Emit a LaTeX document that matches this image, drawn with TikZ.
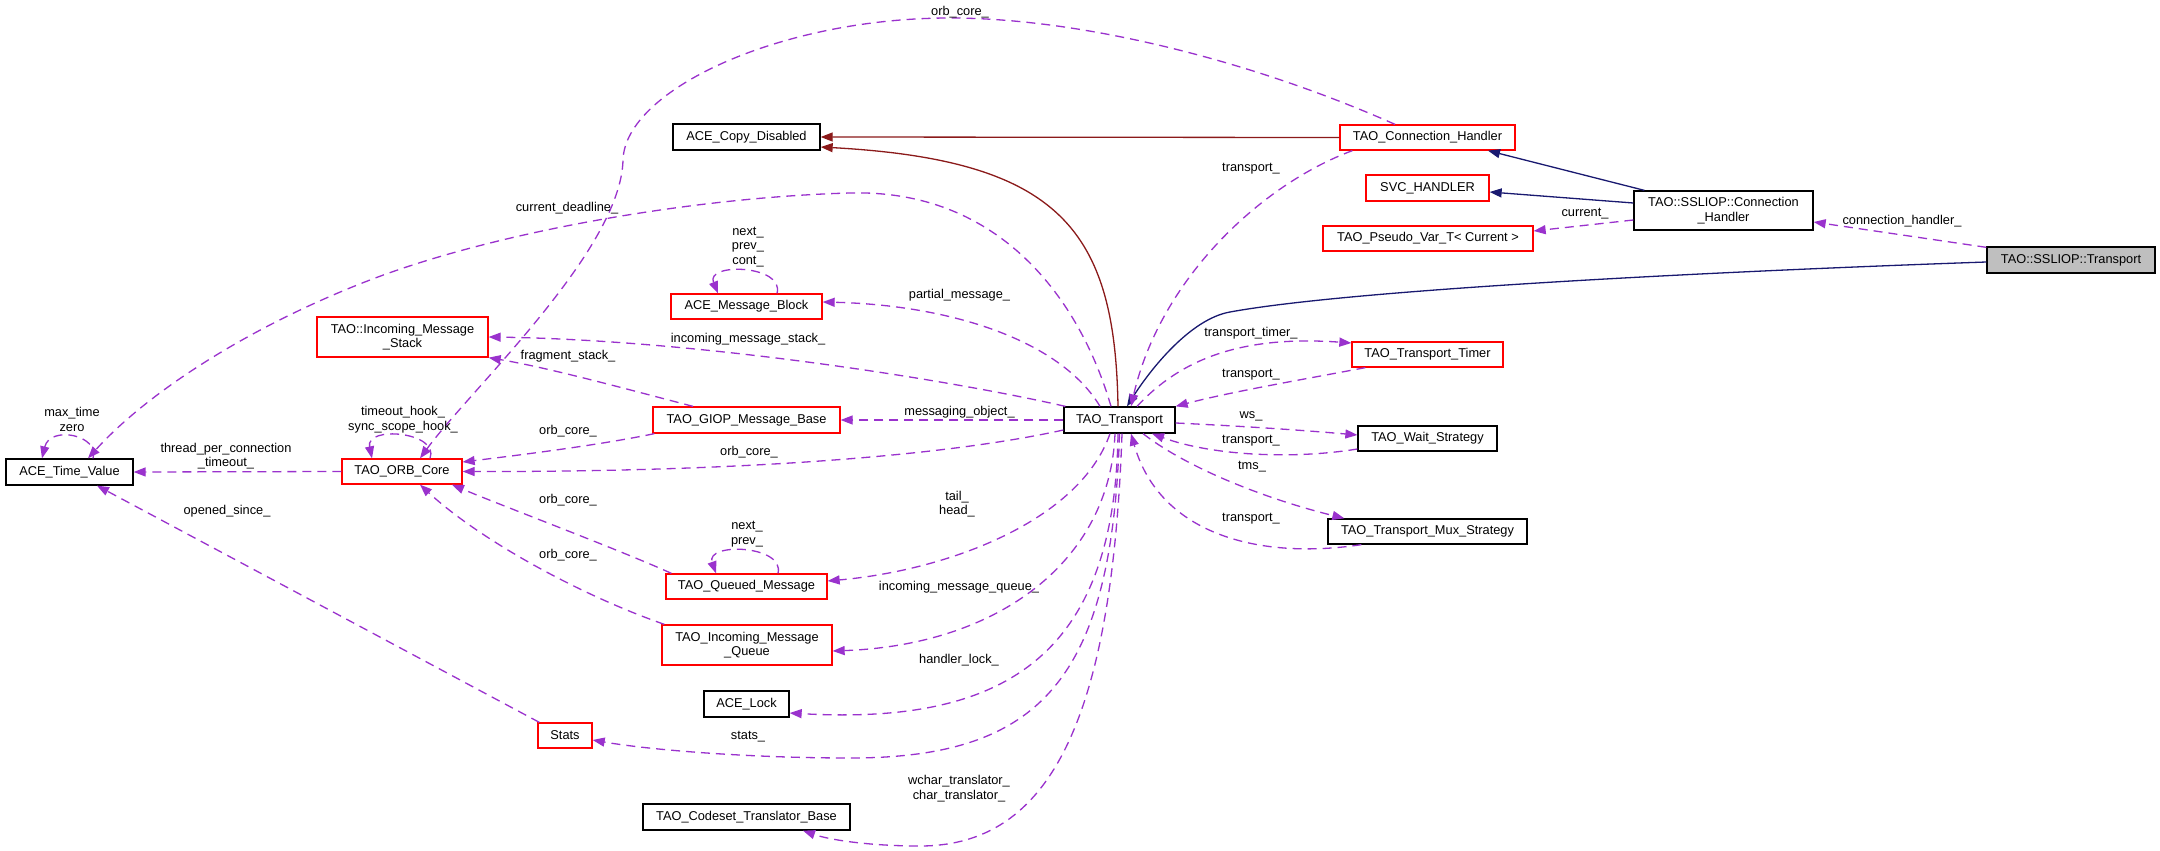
\documentclass[tikz,border=0pt]{standalone}
\usepackage{fontspec}
\setmainfont{Liberation Sans}
\usetikzlibrary{arrows.meta}
\definecolor{orch}{HTML}{9A32CD}
\definecolor{navyb}{HTML}{191970}
\definecolor{fireb}{HTML}{8B1A1A}
\definecolor{grayf}{HTML}{BFBFBF}
\definecolor{redb}{HTML}{FF0000}
\begin{document}
\begin{tikzpicture}[x=1pt,y=-1pt,
  every node/.style={font=\fontsize{12.8}{14.5}\selectfont, inner sep=0pt},
  cls/.style={draw=black, line width=1.3pt, fill=white, align=center},
  redcls/.style={cls, draw=redb},
  tipstyle/.style={-{Triangle[length=12pt,width=9pt]}},
  dep/.style={orch, line width=1.3pt, dash pattern=on 9pt off 6pt, tipstyle},
  inh/.style={navyb, line width=1.3pt, tipstyle},
  pinh/.style={fireb, line width=1.3pt, tipstyle},
  lbl/.style={align=center}
]
\useasboundingbox (0,0) rectangle (2160,851);
\fill[white] (0,0) rectangle (2160,851);

% ---------------- nodes
\node[cls, minimum width=127pt, minimum height=26pt] (tv) at (69.5,472) {ACE\_Time\_Value};
\node[redcls, minimum width=120pt, minimum height=25pt] (orb) at (402,471.5) {TAO\_ORB\_Core};
\node[redcls, minimum width=171pt, minimum height=40pt] (ims) at (402.5,337) {TAO::Incoming\_Message\\\_Stack};
\node[cls, minimum width=147pt, minimum height=26pt] (cd) at (746.5,137) {ACE\_Copy\_Disabled};
\node[redcls, minimum width=151pt, minimum height=25pt] (mb) at (746.5,306.5) {ACE\_Message\_Block};
\node[redcls, minimum width=187pt, minimum height=26pt] (giop) at (746.5,420) {TAO\_GIOP\_Message\_Base};
\node[redcls, minimum width=161pt, minimum height=25pt] (qm) at (746.5,586.5) {TAO\_Queued\_Message};
\node[redcls, minimum width=170pt, minimum height=40pt] (imq) at (747,645) {TAO\_Incoming\_Message\\\_Queue};
\node[cls, minimum width=85pt, minimum height=26pt] (lock) at (746.5,704) {ACE\_Lock};
\node[redcls, minimum width=54pt, minimum height=25pt] (stats) at (565,735.5) {Stats};
\node[cls, minimum width=207pt, minimum height=26pt] (cs) at (746.5,817) {TAO\_Codeset\_Translator\_Base};
\node[cls, minimum width=111pt, minimum height=26pt] (tr) at (1119.5,420) {TAO\_Transport};
\node[redcls, minimum width=175pt, minimum height=25pt] (ch) at (1427.5,137.5) {TAO\_Connection\_Handler};
\node[redcls, minimum width=123pt, minimum height=26pt] (svc) at (1427.5,188) {SVC\_HANDLER};
\node[redcls, minimum width=210pt, minimum height=25pt] (pv) at (1428,238.5) {TAO\_Pseudo\_Var\_T< Current >};
\node[redcls, minimum width=151pt, minimum height=25pt] (tt) at (1427.5,354.5) {TAO\_Transport\_Timer};
\node[cls, minimum width=139pt, minimum height=25pt] (ws) at (1427.5,438.5) {TAO\_Wait\_Strategy};
\node[cls, minimum width=199pt, minimum height=25pt] (mux) at (1427.5,531.5) {TAO\_Transport\_Mux\_Strategy};
\node[cls, minimum width=179pt, minimum height=39pt] (sch) at (1723.5,210.5) {TAO::SSLIOP::Connection\\\_Handler};
\node[cls, fill=grayf, minimum width=168pt, minimum height=26pt] (st) at (2071,260) {TAO::SSLIOP::Transport};

% ---------------- inheritance
\draw[pinh] (ch.west) -- (cd.east);
\draw[pinh] ([xshift=-1.5pt]tr.north) .. controls (1115,230) and (1060,160) .. ([yshift=-10pt]cd.east);
\draw[inh] ([yshift=-2pt]st.west) .. controls (1700,272) and (1350,290) .. (1230,312) .. controls (1190,319) and (1150,370) .. ([xshift=7.5pt]tr.north);
\draw[inh] ([xshift=11pt]sch.north west) -- ([xshift=60.5pt]ch.south);
\draw[inh] ([yshift=7.5pt]sch.west) -- ([yshift=-4pt]svc.east);

% ---------------- usage
\draw[dep] ([xshift=-32.5pt]ch.north) .. controls (1250,60) and (1080,18) .. (950,18) .. controls (780,18) and (625,90) .. (623,160) .. controls (621,250) and (470,390) .. ([xshift=18pt]orb.north);
\draw[dep] ([xshift=-8.5pt]tr.north) .. controls (1080,300) and (1000,189) .. (850,193) .. controls (700,197) and (500,230) .. (370,280) .. controls (253,325) and (150,390) .. ([xshift=18.5pt]tv.north);
\draw[dep] ([xshift=23.5pt]tv.north) .. controls (100,435) and (50,425) .. ([xshift=-27.5pt]tv.north);
\draw[dep] (orb.west) -- (tv.east);
\draw[dep] ([xshift=2pt]stats.north west) -- ([xshift=27.5pt]tv.south);
\draw[dep] ([xshift=28pt]orb.north) .. controls (440,432) and (365,425) .. ([xshift=-30pt]orb.north);
\draw[dep] ([xshift=-53.5pt]giop.north) .. controls (630,390) and (550,368) .. (ims.south east);
\draw[dep] ([xshift=2pt]tr.north west) .. controls (950,380) and (700,340) .. (ims.east);
\draw[dep] ([xshift=-19.5pt]tr.north) .. controls (1060,340) and (950,305) .. ([yshift=4.5pt]mb.east);
\draw[dep] ([xshift=30.5pt]mb.north) .. controls (785,265) and (705,262) .. ([xshift=-28.5pt]mb.north);
\draw[dep] (tr.west) -- (giop.east);
\draw[dep] ([xshift=2pt]giop.south west) .. controls (600,445) and (520,455) .. ([yshift=9.5pt]orb.east);
\draw[dep] ([yshift=-10pt]tr.west) .. controls (950,455) and (750,472) .. (orb.east);
\draw[dep] ([xshift=6pt]qm.north west) .. controls (620,550) and (500,505) .. ([xshift=50pt]orb.south);
\draw[dep] ([xshift=3pt]imq.north west) .. controls (580,595) and (480,540) .. ([xshift=18pt]orb.south);
\draw[dep] ([xshift=-9.5pt]tr.south) .. controls (1080,520) and (950,570) .. ([yshift=5.5pt]qm.east);
\draw[dep] ([xshift=31.5pt]qm.north) .. controls (785,545) and (705,542) .. ([xshift=-30.5pt]qm.north);
\draw[dep] ([xshift=-4.5pt]tr.south) .. controls (1110,560) and (1000,645) .. ([yshift=-6pt]imq.east);
\draw[dep] ([xshift=-1.5pt]tr.south) .. controls (1115,660) and (1000,725) .. ([yshift=-9pt]lock.east);
\draw[dep] (tr.south) .. controls (1112,680) and (1040,758) .. (850,758) .. controls (750,758) and (650,750) .. ([yshift=-4.5pt]stats.east);
\draw[dep] ([xshift=2.5pt]tr.south) .. controls (1112,720) and (1050,846) .. (920,846) .. controls (870,846) and (830,840) .. ([xshift=56.5pt]cs.south);
\draw[dep] ([xshift=13pt]ch.south west) .. controls (1260,185) and (1160,280) .. ([xshift=11.5pt]tr.north);
\draw[dep] ([xshift=17.5pt]tr.north) .. controls (1180,360) and (1240,335) .. ([yshift=11.5pt]tt.west);
\draw[dep] ([xshift=14pt]tt.south west) .. controls (1300,380) and (1230,392) .. (tr.north east);
\draw[dep] ([yshift=-3pt]tr.east) .. controls (1240,426) and (1300,430) .. ([yshift=3.5pt]ws.west);
\draw[dep] ([yshift=-10.5pt]ws.west) .. controls (1290,460) and (1210,455) .. ([xshift=32.5pt]tr.south);
\draw[dep] ([xshift=23.5pt]tr.south) .. controls (1190,470) and (1270,500) .. ([xshift=17pt]mux.north west);
\draw[dep] ([xshift=34pt]mux.south west) .. controls (1260,560) and (1160,535) .. ([xshift=11.5pt]tr.south);
\draw[dep] ([yshift=-9.5pt]sch.west) -- ([yshift=7.5pt]pv.east);
\draw[dep] ([yshift=-1pt]st.north west) -- ([yshift=-11.5pt]sch.east);

% ---------------- labels
\node[lbl] (l1) at (960,12) {orb\_core\_};
\node[lbl] (l2) at (567,208) {current\_deadline\_};
\node[lbl] (l3) at (72,419.5) {max\_time\\zero};
\node[lbl] (l4) at (226,456) {thread\_per\_connection\\\_timeout\_};
\node[lbl] (l5) at (227,511) {opened\_since\_};
\node[lbl] (l6) at (403,419.5) {timeout\_hook\_\\sync\_scope\_hook\_};
\node[lbl] (l7) at (748,247) {next\_\\prev\_\\cont\_};
\node[lbl] (l8) at (959.5,295) {partial\_message\_};
\node[lbl] (l9) at (748,339) {incoming\_message\_stack\_};
\node[lbl] (l10) at (568,356) {fragment\_stack\_};
\node[lbl] (l11) at (959.5,412) {messaging\_object\_};
\node[lbl] (l12) at (568,431) {orb\_core\_};
\node[lbl] (l13) at (749,452) {orb\_core\_};
\node[lbl] (l14) at (568,500) {orb\_core\_};
\node[lbl] (l15) at (568,555) {orb\_core\_};
\node[lbl] (l16) at (957,504) {tail\_\\head\_};
\node[lbl] (l17) at (747,534) {next\_\\prev\_};
\node[lbl] (l18) at (959,587) {incoming\_message\_queue\_};
\node[lbl] (l19) at (959,660) {handler\_lock\_};
\node[lbl] (l20) at (748,737) {stats\_};
\node[lbl] (l21) at (959,788.5) {wchar\_translator\_\\char\_translator\_};
\node[lbl] (l22) at (1251,169) {transport\_};
\node[lbl] (l23) at (1585,214) {current\_};
\node[lbl] (l24) at (1902,221) {connection\_handler\_};
\node[lbl] (l25) at (1251,333) {transport\_timer\_};
\node[lbl] (l26) at (1251,375) {transport\_};
\node[lbl] (l27) at (1251,416) {ws\_};
\node[lbl] (l28) at (1251,441) {transport\_};
\node[lbl] (l29) at (1252,467) {tms\_};
\node[lbl] (l30) at (1251,519) {transport\_};
\end{tikzpicture}
\end{document}
